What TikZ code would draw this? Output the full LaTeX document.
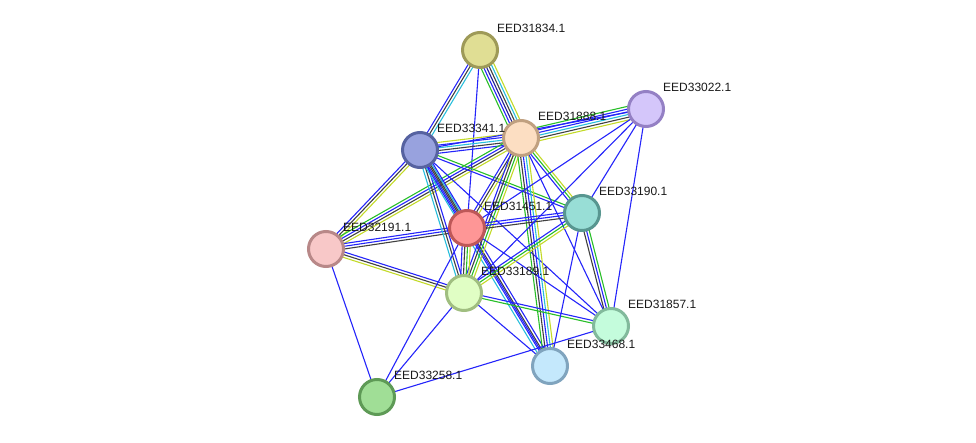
\documentclass[tikz,border=0pt]{standalone}
\usepackage{fontspec}
\setmainfont{Liberation Sans}
\usetikzlibrary{calc}
\pgfdeclarelayer{bg}
\pgfsetlayers{bg,main}
\definecolor{eblue}{RGB}{36,36,250}
\definecolor{enavy}{RGB}{30,30,150}
\definecolor{egrey}{RGB}{64,64,64}
\definecolor{ecyan}{RGB}{40,190,220}
\definecolor{egreen}{RGB}{40,190,40}
\definecolor{eyellow}{RGB}{195,218,40}
\definecolor{fA}{RGB}{224,222,148}\definecolor{bA}{RGB}{158,154,88}
\definecolor{fB}{RGB}{212,198,250}\definecolor{bB}{RGB}{148,128,196}
\definecolor{fC}{RGB}{252,222,194}\definecolor{bC}{RGB}{192,160,128}
\definecolor{fD}{RGB}{152,162,222}\definecolor{bD}{RGB}{86,98,160}
\definecolor{fE}{RGB}{152,222,214}\definecolor{bE}{RGB}{88,150,144}
\definecolor{fF}{RGB}{254,150,150}\definecolor{bF}{RGB}{190,88,88}
\definecolor{fG}{RGB}{248,200,200}\definecolor{bG}{RGB}{184,136,136}
\definecolor{fH}{RGB}{224,254,196}\definecolor{bH}{RGB}{160,190,128}
\definecolor{fI}{RGB}{196,252,220}\definecolor{bI}{RGB}{130,186,156}
\definecolor{fJ}{RGB}{196,232,252}\definecolor{bJ}{RGB}{128,164,190}
\definecolor{fK}{RGB}{160,222,150}\definecolor{bK}{RGB}{94,154,86}
\tikzset{
  prot/.style={circle, minimum size=35pt, inner sep=0pt, line width=3pt},
  lbl/.style={anchor=west, inner sep=0pt, font=\fontsize{12}{13}\selectfont, text=black!90},
  edge/.style={line width=1.1pt}
}
\newcommand\bund[4]{%
  \foreach \cc [count=\ii] in {#4}{%
    \pgfmathsetmacro\off{(\ii-(#3+1)/2)*2.7}%
    \draw[edge, color=\cc] ($(#1.center)!\off pt!90:(#2.center)$) -- ($(#2.center)!\off pt!-90:(#1.center)$);
  }}
\begin{document}
\begin{tikzpicture}[x=1pt,y=-1pt]
\useasboundingbox (0,0) rectangle (976,443);
\node[prot, fill=fA, draw=bA] (A) at (480,50) {};
\node[prot, fill=fB, draw=bB] (B) at (646,109) {};
\node[prot, fill=fC, draw=bC] (C) at (521,138) {};
\node[prot, fill=fD, draw=bD] (D) at (420,150) {};
\node[prot, fill=fE, draw=bE] (E) at (582,213) {};
\node[prot, fill=fF, draw=bF] (F) at (467,228) {};
\node[prot, fill=fG, draw=bG] (G) at (326,249) {};
\node[prot, fill=fH, draw=bH] (H) at (464,293) {};
\node[prot, fill=fI, draw=bI] (I) at (611,326) {};
\node[prot, fill=fJ, draw=bJ] (J) at (550,366) {};
\node[prot, fill=fK, draw=bK] (K) at (377,397) {};
\begin{pgfonlayer}{bg}
\bund{A}{D}{3}{eblue,egrey,ecyan}
\bund{A}{F}{1}{eblue}
\bund{A}{C}{6}{egreen,eblue,enavy,egrey,ecyan,eyellow}
\bund{C}{B}{6}{eyellow,egrey,ecyan,eblue,eblue,egreen}
\bund{D}{C}{5}{eblue,egrey,ecyan,eblue,eyellow}
\bund{D}{B}{1}{eblue}
\bund{G}{D}{3}{eyellow,egrey,eblue}
\bund{G}{C}{4}{eyellow,egrey,eblue,egreen}
\bund{G}{F}{3}{egrey,eblue,eblue}
\bund{G}{H}{3}{eyellow,egrey,eblue}
\bund{G}{K}{1}{eblue}
\bund{D}{F}{3}{eblue,egrey,ecyan}
\bund{D}{H}{3}{ecyan,egrey,eblue}
\bund{D}{J}{4}{ecyan,eblue,egrey,eblue}
\bund{D}{E}{2}{eblue,egreen}
\bund{D}{I}{1}{eblue}
\bund{C}{F}{3}{eblue,egrey,eyellow}
\bund{C}{H}{4}{eblue,egrey,egreen,eyellow}
\bund{C}{J}{5}{egreen,egrey,eblue,ecyan,eyellow}
\bund{C}{I}{1}{eblue}
\bund{C}{E}{3}{eblue,egreen,eyellow}
\bund{F}{E}{3}{egrey,eblue,eblue}
\bund{F}{H}{4}{eblue,egrey,egreen,eyellow}
\bund{F}{J}{1}{eblue}
\bund{F}{I}{1}{eblue}
\bund{H}{I}{2}{egreen,eblue}
\bund{H}{J}{1}{eblue}
\bund{H}{E}{3}{eyellow,egreen,eblue}
\bund{E}{I}{3}{egrey,eblue,egreen}
\bund{E}{J}{1}{eblue}
\bund{B}{E}{1}{eblue}
\bund{B}{F}{1}{eblue}
\bund{B}{H}{1}{eblue}
\bund{B}{I}{1}{eblue}
\bund{K}{F}{1}{eblue}
\bund{K}{H}{1}{eblue}
\bund{K}{I}{1}{eblue}
\end{pgfonlayer}
\node[lbl] (lA) at ($(A)+(17,-22)$) {EED31834.1};
\node[lbl] (lB) at ($(B)+(17,-22)$) {EED33022.1};
\node[lbl] (lC) at ($(C)+(17,-22)$) {EED31888.1};
\node[lbl] (lD) at ($(D)+(17,-22)$) {EED33341.1};
\node[lbl] (lE) at ($(E)+(17,-22)$) {EED33190.1};
\node[lbl] (lF) at ($(F)+(17,-22)$) {EED31451.1};
\node[lbl] (lG) at ($(G)+(17,-22)$) {EED32191.1};
\node[lbl] (lH) at ($(H)+(17,-22)$) {EED33189.1};
\node[lbl] (lI) at ($(I)+(17,-22)$) {EED31857.1};
\node[lbl] (lJ) at ($(J)+(17,-22)$) {EED33468.1};
\node[lbl] (lK) at ($(K)+(17,-22)$) {EED33258.1};
\end{tikzpicture}
\end{document}
